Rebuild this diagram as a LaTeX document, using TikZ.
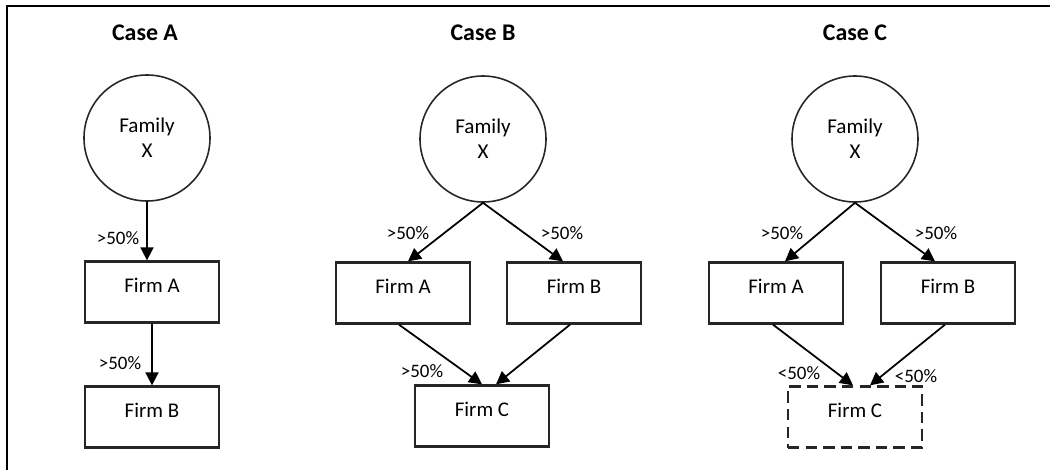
\documentclass[tikz,border=0pt]{standalone}
\usepackage{fontspec}
\setmainfont{Carlito}
\usepackage{tikz}
\usetikzlibrary{arrows.meta,positioning}

\begin{document}
\begin{tikzpicture}[
    title/.style={font=\fontsize{13.6}{16}\selectfont\bfseries},
    family/.style={circle, draw=black!85, line width=0.9pt, minimum size=2.52cm, align=center, font=\fontsize{12}{14.2}\selectfont},
    firm/.style={rectangle, draw=black!85, line width=1.3pt, minimum width=2.68cm, minimum height=1.22cm, text depth=0.28cm, font=\fontsize{11.9}{14}\selectfont},
    minority/.style={firm, dash pattern=on 6.5pt off 3.5pt},
    share/.style={font=\fontsize{10.8}{13}\selectfont},
    arrow/.style={-{Triangle[width=0.26cm,length=0.26cm]}, line width=1pt}
]
\useasboundingbox (0,0) rectangle (21,9.4);

% Frame
\draw[line width=1.7pt] (0.14,0) -- (0.14,9.28) -- (21,9.28);

% Titles
\node[title] (tA) at (2.9, 8.74) {Case A};
\node[title] (tB) at (9.66, 8.74) {Case B};
\node[title] (tC) at (17.1, 8.74) {Case C};

% Families
\node[family] (famA) at (2.94, 6.64) {Family\\X};
\node[family] (famB) at (9.66, 6.62) {Family\\X};
\node[family] (famC) at (17.1, 6.62) {Family\\X};

% Case A firms
\node[firm] (aA) at (3.04, 3.56) {Firm A};
\node[firm] (aB) at (3.04, 1.06) {Firm B};

% Case B firms
\node[firm] (bA) at (8.06, 3.54) {Firm A};
\node[firm] (bB) at (11.48, 3.54) {Firm B};
\node[firm] (bC) at (9.64, 1.08) {Firm C};

% Case C firms
\node[firm] (cA) at (15.52, 3.54) {Firm A};
\node[firm] (cB) at (18.96, 3.54) {Firm B};
\node[minority] (cC) at (17.1, 1.06) {Firm C};

% Case A arrows
\draw[arrow] (famA.south) -- (famA.south |- aA.north);
\draw[arrow] (aA.south) -- (aB.north);

% Case B arrows
\draw[arrow] (famB.south) -- ([xshift=0.1cm]bA.north);
\draw[arrow] (famB.south) -- ([xshift=-0.22cm]bB.north);
\draw[arrow] ([xshift=-0.08cm]bA.south) -- (bC.north);
\draw[arrow] ([xshift=-0.08cm]bB.south) -- ([xshift=0.28cm]bC.north);

% Case C arrows
\draw[arrow] (famC.south) -- ([xshift=0.18cm]cA.north);
\draw[arrow] (famC.south) -- ([xshift=-0.26cm]cB.north);
\draw[arrow] ([xshift=-0.06cm]cA.south) -- ([xshift=-0.04cm]cC.north);
\draw[arrow] ([xshift=-0.06cm]cB.south) -- ([xshift=0.3cm]cC.north);

% Shares
\node[share] (sA1) at (2.36, 4.64) {>50\%};
\node[share] (sA2) at (2.4, 2.14) {>50\%};
\node[share] (sB1) at (8.16, 4.74) {>50\%};
\node[share] (sB2) at (11.24, 4.74) {>50\%};
\node[share] (sB3) at (8.44, 1.98) {>50\%};
\node[share] (sC1) at (15.64, 4.74) {>50\%};
\node[share] (sC2) at (18.72, 4.74) {>50\%};
\node[share] (sC3) at (15.98, 1.94) {<50\%};
\node[share] (sC4) at (18.32, 1.88) {<50\%};

\end{tikzpicture}
\end{document}
